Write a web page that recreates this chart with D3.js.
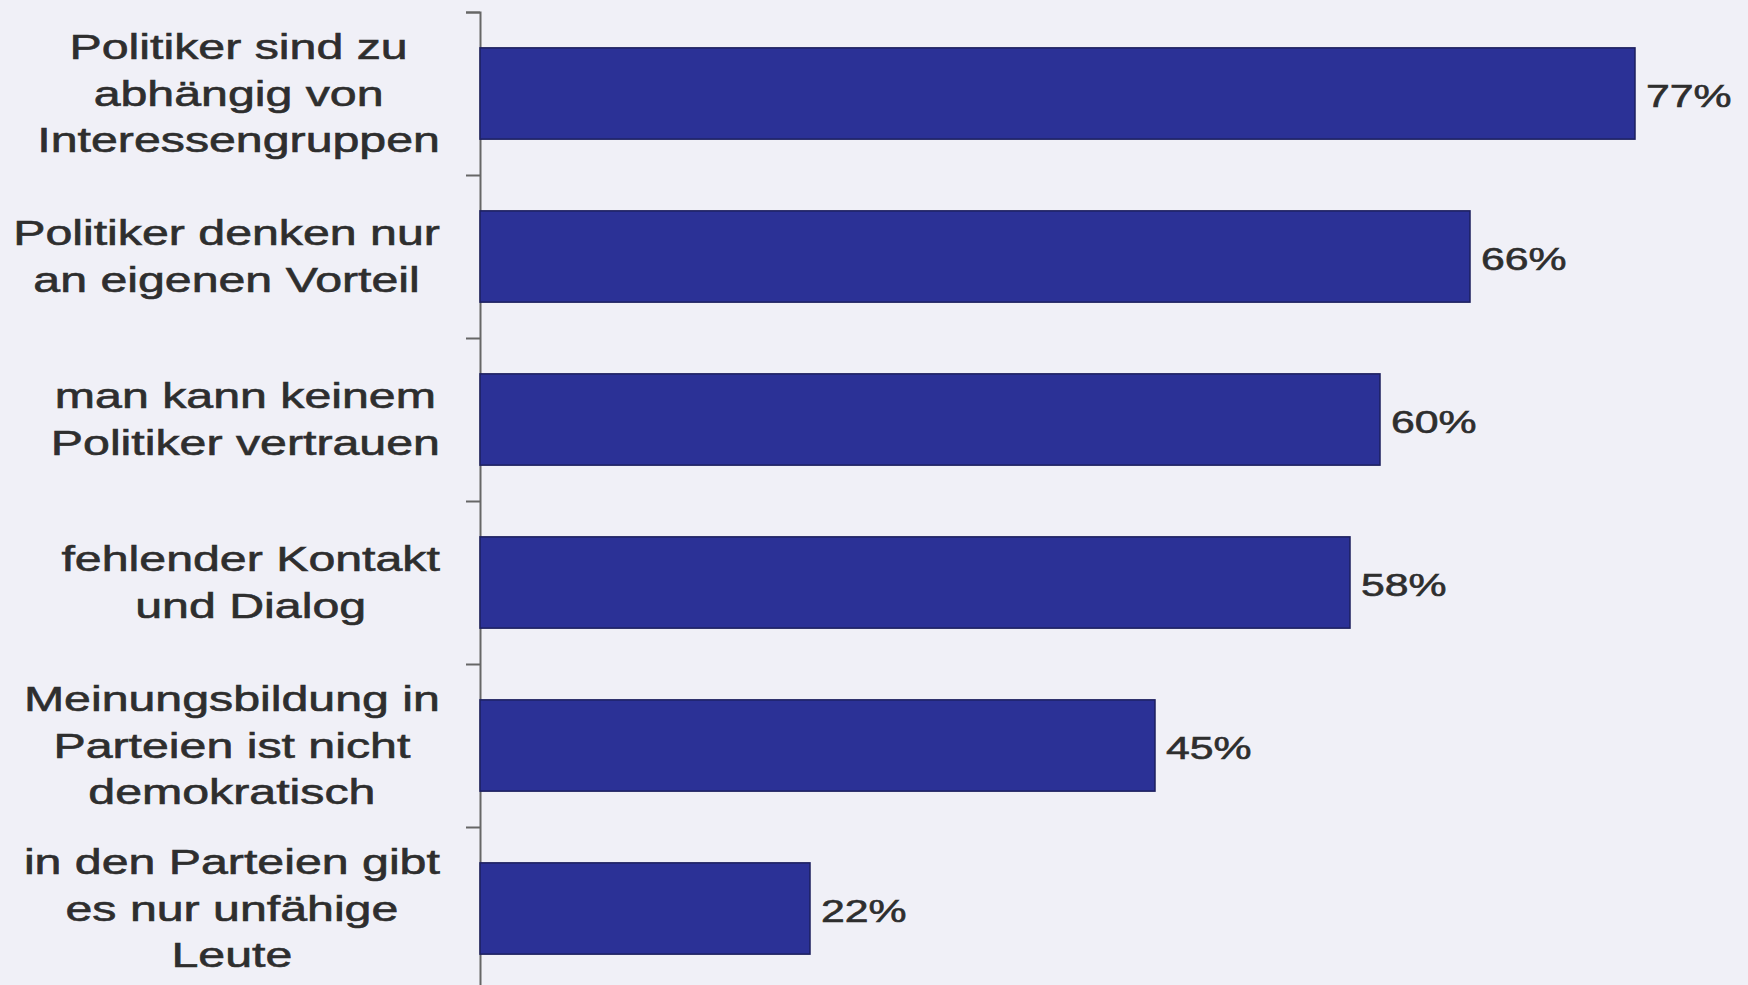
<!DOCTYPE html>
<html>
<head>
<meta charset="utf-8">
<script src="https://cdn.jsdelivr.net/npm/d3@7"></script>
<style>
  body { margin: 0; background: #f0f0f7; }
  svg { display: block; }
  text { font-family: "Liberation Sans", Arial, sans-serif; fill: #2e2e2e; stroke: #2e2e2e; stroke-width: 0.6px; }
</style>
</head>
<body>
<div id="chart"></div>
<script>
// data
var categories = [
    ["Politiker sind zu", "abhängig von", "Interessengruppen"],
    ["Politiker denken nur", "an eigenen Vorteil"],
    ["man kann keinem", "Politiker vertrauen"],
    ["fehlender Kontakt", "und Dialog"],
    ["Meinungsbildung in", "Parteien ist nicht", "demokratisch"],
    ["in den Parteien gibt", "es nur unfähige", "Leute"]
];
var values = [77, 66, 60, 58, 45, 22];

var svgWidth = 1748;
var svgHeight = 985;

var margin = { top: 12, left: 480 };
var step = 163;
var stretch = 1.38; // text in the scan is wider than normal

var svg = d3.select("#chart")
    .append("svg")
    .attr("width", svgWidth)
    .attr("height", svgHeight);

var chart = svg.append("g")
    .attr("transform", `translate(${margin.left}, ${margin.top})`);

// scales
var xScale = d3.scaleLinear()
    .domain([0, 100])
    .range([0, 1500]);

var yScale = d3.scaleBand()
    .domain(d3.range(categories.length))
    .range([0, step * categories.length])
    .paddingInner(0.44)
    .paddingOuter(0.22);

// tick marks sit on band boundaries
var tickScale = d3.scaleLinear()
    .domain([0, categories.length])
    .range([0, step * categories.length]);

var axis = chart.append("g")
    .call(d3.axisLeft(tickScale)
        .tickValues(d3.range(categories.length + 1))
        .tickSize(14)
        .tickFormat(""));
axis.selectAll("path, line")
    .attr("stroke", "#666")
    .attr("stroke-width", 2);

// bars
chart.selectAll("rect.bar")
    .data(values)
    .enter()
    .append("rect")
    .attr("class", "bar")
    .attr("x", 0)
    .attr("y", (d, i) => yScale(i))
    .attr("width", d => xScale(d))
    .attr("height", yScale.bandwidth())
    .attr("fill", "#2b3196")
    .attr("stroke", "#1c1f5e")
    .attr("stroke-width", 1.5);

// value labels
chart.selectAll("g.val")
    .data(values)
    .enter()
    .append("g")
    .attr("class", "val")
    .attr("transform", (d, i) =>
        `translate(${xScale(d) + 11}, ${yScale(i) + yScale.bandwidth() / 2 + 13}) scale(${stretch},1)`)
    .append("text")
    .attr("font-size", "31px")
    .text(d => d + "%");

// category labels, centred blocks with widest line ending near x=440
var lineHeight = 47;
var labelRight = 440 - margin.left;

categories.forEach(function(lines, i) {
    var cy = yScale(i) + yScale.bandwidth() / 2;
    var g = chart.append("g");
    var texts = lines.map(function(line, j) {
        return g.append("text")
            .attr("font-size", "35px")
            .attr("text-anchor", "middle")
            .attr("x", 0)
            .attr("y", (j - (lines.length - 1) / 2) * lineHeight + 12)
            .text(line);
    });
    var maxW = d3.max(texts, t => t.node().getComputedTextLength()) * stretch;
    g.attr("transform", `translate(${labelRight - maxW / 2}, ${cy}) scale(${stretch},1)`);
});
</script>
</body>
</html>
